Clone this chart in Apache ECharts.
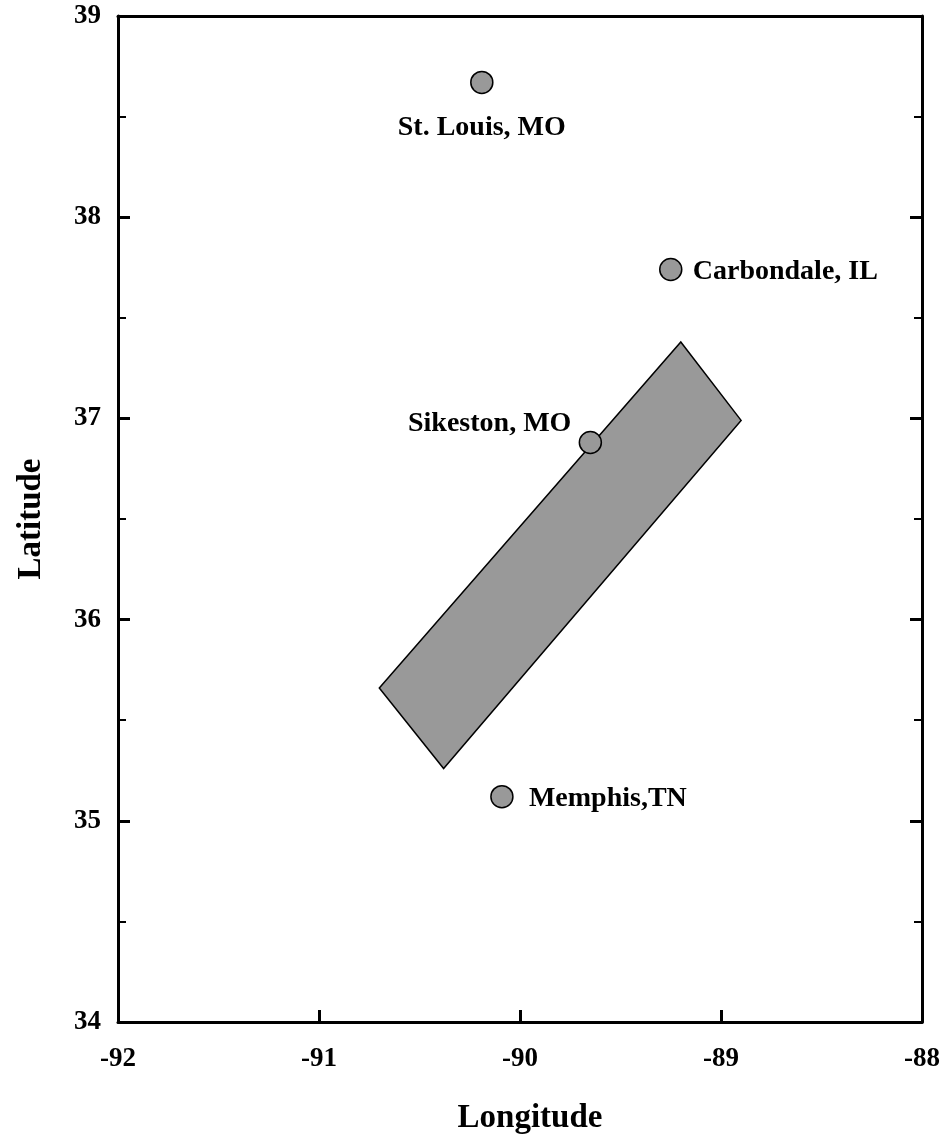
<!DOCTYPE html>
<html>
<head>
<meta charset="utf-8">
<script src="https://cdn.jsdelivr.net/npm/echarts@6/dist/echarts.min.js"></script>
<style>
  html, body { margin: 0; padding: 0; background: #fff; }
  #chart { width: 947px; height: 1137px; }
</style>
</head>
<body>
<div id="chart"></div>
<script>
// Cities (longitude, latitude)
const cityNames = ['St. Louis, MO', 'Carbondale, IL', 'Sikeston, MO', 'Memphis,TN'];
const cityLon = [-90.19, -89.25, -89.65, -90.09];
const cityLat = [38.67, 37.74, 36.88, 35.12];

// Study-area rectangle corners (longitude, latitude)
const zoneLon = [-90.70, -89.20, -88.90, -90.38];
const zoneLat = [35.66, 37.38, 36.99, 35.26];

// Axis ranges
const lonRange = [-92, -88];
const latRange = [34, 39];

const FONT = '"Liberation Serif", "Times New Roman", serif';

// Label placement per city: [align, dx, dy]
const labelPlace = [
  ['center', 0, 45],
  ['left', 22, 2],
  ['right', -19, -19],
  ['left', 27, 2]
];

const cityData = cityNames.map((n, i) => ({
  name: n,
  value: [cityLon[i], cityLat[i]],
  label: {
    show: true,
    formatter: n,
    position: 'inside',
    align: labelPlace[i][0],
    verticalAlign: 'middle',
    offset: [labelPlace[i][1], labelPlace[i][2]]
  }
}));

const zoneData = zoneLon.map((x, i) => [x, zoneLat[i]]);

const chart = echarts.init(document.getElementById('chart'), null, { renderer: 'canvas' });

const lineStyle = { color: '#000', width: 3 };

chart.setOption({
  backgroundColor: '#fff',
  animation: false,
  grid: { left: 118, right: 25, top: 16, bottom: 115, containLabel: false, outerBoundsMode: 'none' },
  xAxis: [
    {
      type: 'value', min: lonRange[0], max: lonRange[1], interval: 1,
      position: 'bottom',
      name: 'Longitude', nameLocation: 'middle', nameGap: 80,
      nameTextStyle: { fontFamily: FONT, fontWeight: 'bold', fontSize: 33, color: '#000', padding: [0, 0, 0, 20] },
      axisLine: { show: true, lineStyle: lineStyle },
      axisTick: { show: true, inside: true, length: 12, lineStyle: { color: '#000', width: 3 } },
      axisLabel: { fontFamily: FONT, fontWeight: 'bold', fontSize: 27, color: '#000', margin: 24 },
      splitLine: { show: false }
    },
    {
      type: 'value', min: lonRange[0], max: lonRange[1], interval: 1,
      position: 'top',
      axisLine: { show: true, lineStyle: lineStyle },
      axisTick: { show: false },
      axisLabel: { show: false },
      splitLine: { show: false }
    }
  ],
  yAxis: [
    {
      type: 'value', min: latRange[0], max: latRange[1], interval: 1,
      position: 'left',
      name: 'Latitude', nameLocation: 'middle', nameGap: 70, nameRotate: 90,
      nameTextStyle: { fontFamily: FONT, fontWeight: 'bold', fontSize: 33, color: '#000' },
      axisLine: { show: true, lineStyle: lineStyle },
      axisTick: { show: true, inside: true, length: 12, lineStyle: { color: '#000', width: 3 } },
      minorTick: { show: true, splitNumber: 2, length: 8, lineStyle: { color: '#000', width: 2 } },
      axisLabel: { fontFamily: FONT, fontWeight: 'bold', fontSize: 27, color: '#000', margin: 17 },
      splitLine: { show: false }
    },
    {
      type: 'value', min: latRange[0], max: latRange[1], interval: 1,
      position: 'right',
      axisLine: { show: true, lineStyle: lineStyle },
      axisTick: { show: true, inside: true, length: 12, lineStyle: { color: '#000', width: 3 } },
      minorTick: { show: true, splitNumber: 2, length: 8, lineStyle: { color: '#000', width: 2 } },
      axisLabel: { show: false },
      splitLine: { show: false }
    }
  ],
  series: [
    {
      type: 'custom',
      name: 'zone',
      xAxisIndex: 0, yAxisIndex: 0,
      data: [0],
      renderItem: function (params, api) {
        const pts = zoneData.map(p => api.coord(p));
        return {
          type: 'polygon',
          shape: { points: pts },
          style: { fill: '#999999', stroke: '#000', lineWidth: 1.5 }
        };
      },
      z: 2
    },
    {
      type: 'scatter',
      name: 'cities',
      xAxisIndex: 0, yAxisIndex: 0,
      symbol: 'circle',
      symbolSize: 22,
      itemStyle: { color: '#999999', borderColor: '#000', borderWidth: 1.5, opacity: 1 },
      label: {
        fontFamily: FONT, fontWeight: 'bold', fontSize: 28, color: '#000'
      },
      data: cityData,
      z: 3
    }
  ]
});
</script>
</body>
</html>
